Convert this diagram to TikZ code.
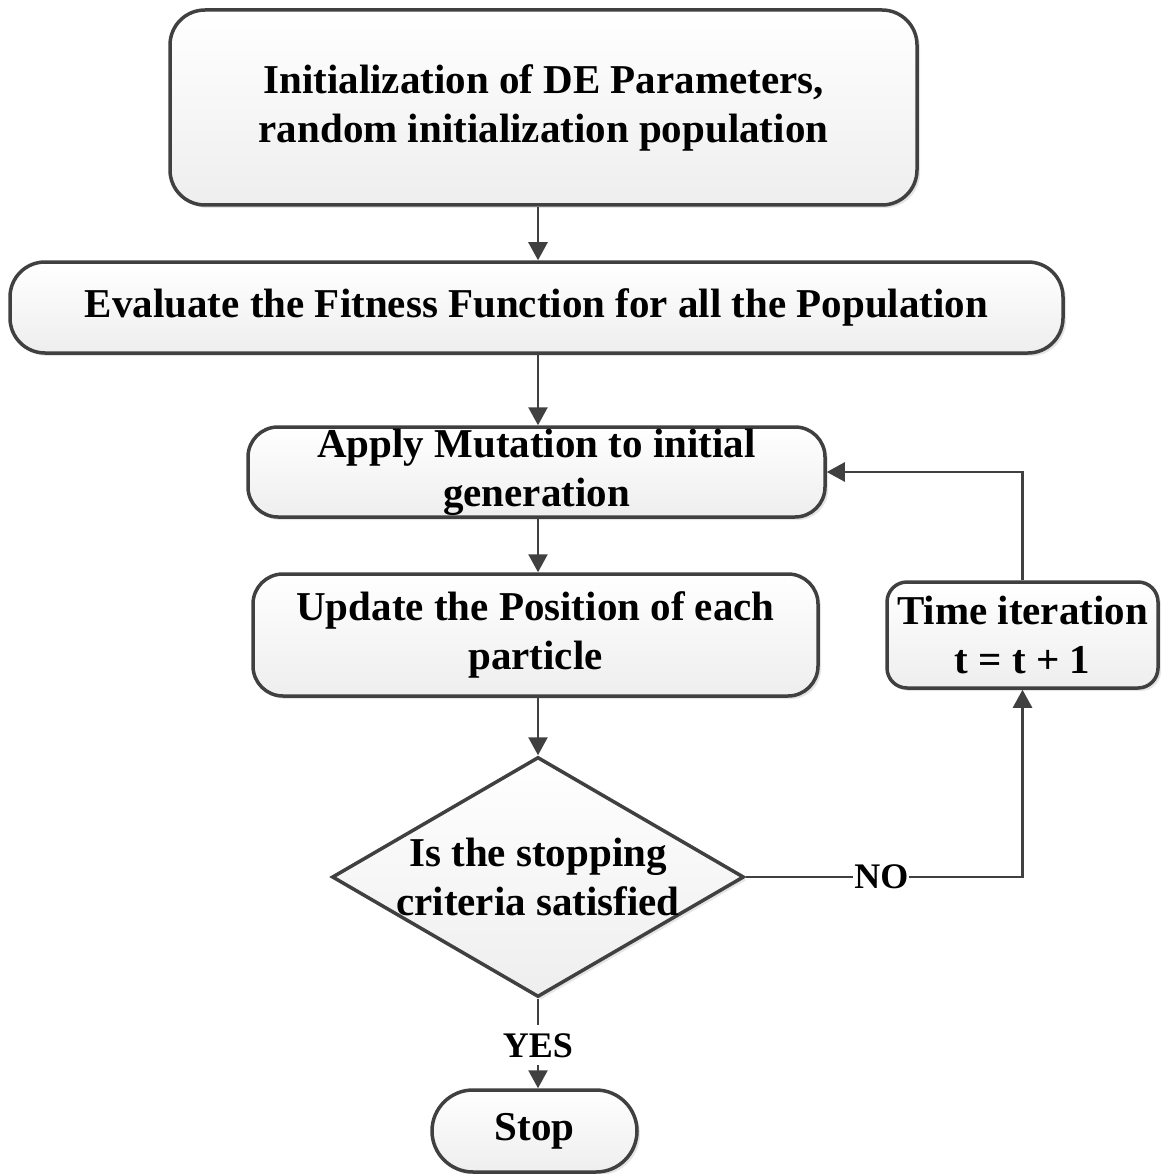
\documentclass[tikz,border=0pt]{standalone}
\usepackage{fontspec}
\setmainfont{Liberation Serif}
\usetikzlibrary{arrows.meta,shapes.geometric,shadows}
\definecolor{edge}{HTML}{404040}
\definecolor{shadebot}{HTML}{EEEEEE}
\newcommand\flowfont{\fontsize{41}{49}\selectfont\bfseries}
\newcommand\tagfont{\fontsize{36}{40}\selectfont\bfseries}
\tikzset{
  x=1pt, y=-1pt,
  flowbox/.style={draw=edge, line width=3.5pt, top color=white, bottom color=shadebot,
    rounded corners=#1, inner sep=0pt, align=center, font=\flowfont,
    drop shadow={shadow xshift=3pt, shadow yshift=-3pt, fill=black!10, opacity=1}},
  flowbox/.default=30pt,
  flowtext/.style={inner sep=0pt, align=center, font=\flowfont},
  conn/.style={draw=edge, line width=2.5pt},
  tip/.style={-{Triangle[length=18pt,width=19pt]}},
  tag/.style={fill=white, inner sep=1pt, font=\tagfont}
}
\begin{document}
\begin{tikzpicture}
  \useasboundingbox (0,0) rectangle (1160,1174);

  % process boxes
  \node[flowbox=35pt, minimum width=747pt, minimum height=195pt] (init) at (543.5,107.5)
    {Initialization of DE Parameters,\\random initialization population};
  \node[flowbox=35pt, minimum width=1053pt, minimum height=91pt] (eval) at (536.5,307.5)
    {Evaluate the Fitness Function for all the Population};
  \node[flowbox=30pt, minimum width=577pt, minimum height=90pt] (mut) at (536.5,472)
    {Apply Mutation to initial\\generation};
  \node[flowbox=30pt, minimum width=565pt, minimum height=122pt] (upd) at (535.5,635)
    {Update the Position of each\\particle};
  \node[flowbox=20pt, minimum width=271pt, minimum height=106pt] (time) at (1022.5,635)
    {Time iteration\\t = t + 1};

  % decision
  \node[diamond, draw=edge, line width=3.5pt, top color=white, bottom color=shadebot,
    minimum width=412pt, minimum height=240pt, inner sep=0pt,
    drop shadow={shadow xshift=3pt, shadow yshift=-3pt, fill=black!10, opacity=1}]
    (dec) at (538,877) {};
  \node[flowtext] (dectext) at (538,877) {Is the stopping\\criteria satisfied};

  % terminal
  \node[flowbox=41pt, minimum width=205pt, minimum height=82pt] (stop) at (534.5,1131) {Stop};

  % connectors
  \draw[conn, tip] (init.south -| dec.north) -- (eval.north -| dec.north);
  \draw[conn, tip] (eval.south -| dec.north) -- (mut.north -| dec.north);
  \draw[conn, tip] (mut.south -| dec.north) -- (upd.north -| dec.north);
  \draw[conn, tip] (upd.south -| dec.north) -- (dec.north);
  \draw[conn, tip] (dec.east) -- node[tag, pos=0.49] (no) {NO} (time.south |- dec.east) -- (time.south);
  \draw[conn, tip] (time.north) |- (mut.east);
  \draw[conn, tip] (dec.south) -- node[tag, pos=0.52, minimum height=40pt, inner sep=0pt] (yes) {YES} (stop.north -| dec.south);
\end{tikzpicture}
\end{document}
